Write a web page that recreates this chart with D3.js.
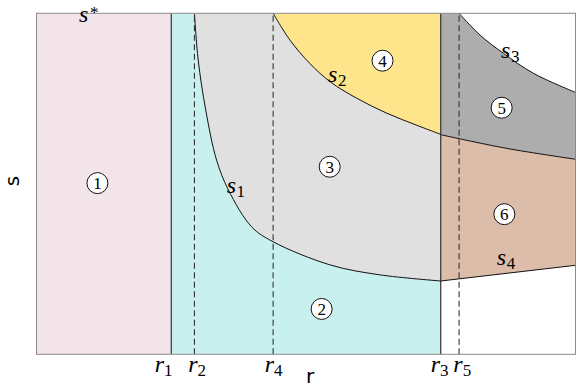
<!DOCTYPE html>
<html>
<head>
<meta charset="utf-8">
<script src="https://cdn.jsdelivr.net/npm/d3@7"></script>
<style>
  body { margin: 0; background: #fff; }
  svg { display: block; }
  .serif { font-family: "Liberation Serif", "DejaVu Serif", serif; }
  .sans { font-family: "DejaVu Sans", sans-serif; }
</style>
</head>
<body>
<script>
// curve points, in (r, s) units
var s1 = [[2.93, 10.0], [3.00, 8.63], [3.14, 7.16], [3.34, 5.70], [3.56, 4.82],
          [3.99, 3.74], [4.39, 3.30], [5.45, 2.62], [6.37, 2.33], [7.50, 2.15]];
var s2 = [[4.39, 10.0], [4.70, 9.22], [5.07, 8.53], [5.45, 7.99], [5.94, 7.51],
          [6.50, 7.07], [7.05, 6.72], [7.50, 6.45]];
var border56 = [[7.50, 6.44], [8.72, 6.04], [10.0, 5.72]];
var s3 = [[7.84, 10.0], [8.23, 9.36], [8.66, 8.83], [9.22, 8.24], [10.0, 7.68]];
var s4 = [[7.50, 2.15], [10.0, 2.61]];

// vertical lines
var r1 = 2.5, r2 = 2.93, r4 = 4.39, r3 = 7.5, r5 = 7.84;
var solidLines = [r1, r3];
var dashedLines = [r2, r4, r5];

// tick labels under the frame
var tickNames = ["1", "2", "4", "3", "5"];
var tickPos = [2.35, 2.97, 4.39, 7.47, 7.89];

// region numbers
var regionNames = ["1", "2", "3", "4", "5", "6"];
var regionPos = [[1.13, 5.02], [5.29, 1.33], [5.44, 5.50], [6.42, 8.61], [8.63, 7.23], [8.68, 4.11]];

// curve names
var curveNames = ["*", "1", "2", "3", "4"];
var curveNamePos = [[0.79, 9.75], [3.53, 4.74], [5.41, 7.99], [8.62, 8.68], [8.54, 2.62]];

var W = 581, H = 388;
var margin = {left: 36.5, right: 5.5, top: 13.3, bottom: 33.7};

var x = d3.scaleLinear().domain([0, 10]).range([margin.left, W - margin.right]);
var y = d3.scaleLinear().domain([0, 10]).range([H - margin.bottom, margin.top]);

var svg = d3.select("body").append("svg")
  .attr("width", W)
  .attr("height", H);

svg.append("clipPath").attr("id", "frame")
  .append("rect")
  .attr("x", x(0)).attr("y", y(10))
  .attr("width", x(10) - x(0)).attr("height", y(0) - y(10));

var g = svg.append("g").attr("clip-path", "url(#frame)");

var smooth = d3.curveCatmullRom.alpha(0.5);
var above = d3.area()
  .x(function(d) { return x(d[0]); })
  .y0(function(d) { return y(d[1]); })
  .y1(y(10))
  .curve(smooth);
var below = d3.area()
  .x(function(d) { return x(d[0]); })
  .y0(y(0))
  .y1(function(d) { return y(d[1]); })
  .curve(smooth);
var line = d3.line()
  .x(function(d) { return x(d[0]); })
  .y(function(d) { return y(d[1]); })
  .curve(smooth);

function band(r0, rr1, fill) {
  g.append("rect")
    .attr("x", x(r0)).attr("y", y(10))
    .attr("width", x(rr1) - x(r0)).attr("height", y(0) - y(10))
    .attr("fill", fill);
}

// regions
band(0, r1, "#f3e4ea");
band(r1, r3, "#c8f0ee");
g.append("path").datum(s1).attr("d", above).attr("fill", "#e0e0e0");
g.append("path").datum(s2).attr("d", above).attr("fill", "#fee58c");
band(r3, 10, "#adadad");
g.append("path").datum(border56).attr("d", below).attr("fill", "#dcbdaa");
g.append("path").datum(s4).attr("d", below).attr("fill", "#ffffff");
g.append("path").datum(s3).attr("d", above).attr("fill", "#ffffff");

// curves
[s1, s2, border56, s3, s4].forEach(function(c) {
  g.append("path").datum(c).attr("d", line)
    .attr("fill", "none").attr("stroke", "#111").attr("stroke-width", 1);
});

g.selectAll(".solid").data(solidLines).enter().append("line")
  .attr("x1", function(d) { return x(d); }).attr("x2", function(d) { return x(d); })
  .attr("y1", y(0)).attr("y2", y(10))
  .attr("stroke", "#222").attr("stroke-width", 1.1);

g.selectAll(".dashed").data(dashedLines).enter().append("line")
  .attr("x1", function(d) { return x(d); }).attr("x2", function(d) { return x(d); })
  .attr("y1", y(0)).attr("y2", y(10))
  .attr("stroke", "#333").attr("stroke-width", 1.1)
  .attr("stroke-dasharray", "6,3.5");

// frame
svg.append("rect")
  .attr("x", x(0)).attr("y", y(10))
  .attr("width", x(10) - x(0)).attr("height", y(0) - y(10))
  .attr("fill", "none").attr("stroke", "#8a8a8a").attr("stroke-width", 1);

// bottom axis, labels only
var xAxis = svg.append("g")
  .attr("transform", "translate(0," + y(0) + ")")
  .call(d3.axisBottom(x).tickValues(tickPos).tickSize(0).tickPadding(0).tickFormat(""));
xAxis.attr("font-family", null).attr("font-size", null);
xAxis.select(".domain").remove();
xAxis.selectAll(".tick text")
  .attr("class", "serif")
  .attr("y", 17.5)
  .attr("dy", null)
  .attr("fill", "#000")
  .style("font-size", "24px")
  .attr("text-anchor", "middle")
  .each(function(d, i) {
    var t = d3.select(this);
    t.append("tspan").style("font-style", "italic").text("r");
    t.append("tspan").style("font-size", "17px").attr("dy", 4).text(tickNames[i]);
  });

// axis titles
svg.append("text")
  .attr("class", "sans")
  .attr("x", 310).attr("y", 383)
  .attr("text-anchor", "middle")
  .style("font-size", "20px")
  .text("r");
svg.append("text")
  .attr("class", "sans")
  .attr("transform", "translate(19,181) rotate(-90)")
  .attr("text-anchor", "middle")
  .style("font-size", "20px")
  .text("s");

// circled region numbers
var badge = svg.selectAll(".badge").data(regionNames).enter().append("g")
  .attr("transform", function(d, i) {
    return "translate(" + x(regionPos[i][0]) + "," + y(regionPos[i][1]) + ")";
  });
badge.append("circle").attr("r", 10.5)
  .attr("fill", "#fff").attr("stroke", "#111").attr("stroke-width", 1);
badge.append("text")
  .attr("class", "serif")
  .attr("text-anchor", "middle").attr("y", 5.8)
  .style("font-size", "17px")
  .text(function(d) { return d; });

// curve names
var names = svg.selectAll(".cname").data(curveNames).enter().append("text")
  .attr("class", "serif")
  .attr("x", function(d, i) { return x(curveNamePos[i][0]); })
  .attr("y", function(d, i) { return y(curveNamePos[i][1]); })
  .style("font-size", "24px");
names.append("tspan").style("font-style", "italic").text("s");
names.append("tspan")
  .style("font-size", "17px")
  .attr("dy", function(d) { return d === "*" ? -4 : 4; })
  .attr("dx", function(d) { return d === "*" ? 1.5 : 0.5; })
  .text(function(d) { return d; });
</script>
</body>
</html>
